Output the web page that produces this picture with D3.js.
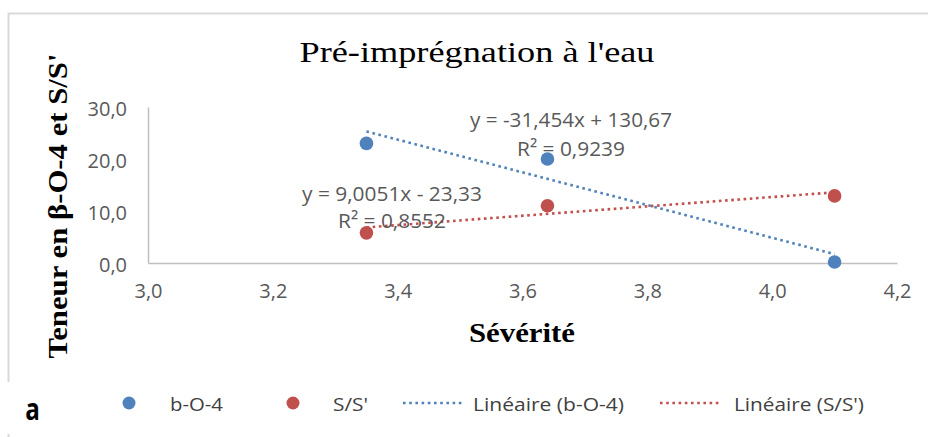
<!DOCTYPE html>
<html><head><meta charset="utf-8">
<script src="https://cdn.jsdelivr.net/npm/d3@7"></script>
<style>html,body{margin:0;padding:0;background:#fff;}svg{display:block;}</style>
</head><body>
<svg id="c" width="928" height="437"></svg>
<script>
const severite = [3.35, 3.64, 4.10];
const bO4 = [23.0, 20.0, 0.2];
const sS = [5.8, 11.0, 12.9];
const trendBO4 = [-31.454, 130.67];
const trendSS = [9.0051, -23.33];
const eqBO4 = ["y = -31,454x + 130,67", "R² = 0,9239"];
const eqSS = ["y = 9,0051x - 23,33", "R² = 0,8552"];
const xTicks = [3.0, 3.2, 3.4, 3.6, 3.8, 4.0, 4.2];
const yTicks = [0, 10, 20, 30];
const seriesNames = ["b-O-4", "S/S'", "Linéaire (b-O-4)", "Linéaire (S/S')"];
const colors = {blue: "#4F81BD", red: "#C0504D"};

const svg = d3.select("#c");
const fmt = d => d3.format(".1f")(d).replace(".", ",");
const sans = "'Open Sans', sans-serif";
const serif = "'Liberation Serif', 'Times New Roman', serif";

// outer border
svg.append("rect").attr("x", 8.5).attr("y", 13.5).attr("width", 1000).attr("height", 1000)
  .attr("fill", "none").attr("stroke", "#d9d9d9").attr("stroke-width", 2);
svg.append("rect").attr("x", 0).attr("y", 382).attr("width", 60).attr("height", 52).attr("fill", "#fff");

const x = d3.scaleLinear().domain([3.0, 4.2]).range([148, 897]);
const y = d3.scaleLinear().domain([0, 30]).range([263, 107]);

// axes
const xa = svg.append("g").attr("transform", "translate(0,263)")
  .call(d3.axisBottom(x).tickValues(xTicks).tickSize(0).tickPadding(21).tickFormat(fmt));
const ya = svg.append("g").attr("transform", "translate(148,0)")
  .call(d3.axisLeft(y).tickValues(yTicks).tickSize(0).tickPadding(21).tickFormat(fmt));
[xa, ya].forEach(a => {
  a.select(".domain").attr("stroke", "#bfbfbf").attr("stroke-width", 1.5);
  a.selectAll("text").attr("fill", "#595959").style("font-family", sans).style("font-size", "20px");
});
ya.selectAll("text").attr("dy", "0.4em");

// trend lines
const line = d3.line().x(d => x(d[0])).y(d => y(d[1]));
const xr = d3.extent(severite);
[[trendBO4, colors.blue], [trendSS, colors.red]].forEach(([t, c]) => {
  svg.append("path").datum(xr.map(v => [v, t[0] * v + t[1]]))
    .attr("d", line).attr("fill", "none").attr("stroke", c)
    .attr("stroke-width", 2.6).attr("stroke-dasharray", "2.6,3.6");
});

// points
[[bO4, colors.blue], [sS, colors.red]].forEach(([vals, c]) => {
  svg.append("g").selectAll("circle").data(vals).join("circle")
    .attr("cx", (d, i) => x(severite[i])).attr("cy", d => y(d)).attr("r", 6.8).attr("fill", c);
});

// equation labels
const eq = (lines, cx, cy, lens) => {
  lines.forEach((t, i) => svg.append("text").attr("x", cx).attr("y", cy[i]).attr("text-anchor", "middle")
    .attr("dominant-baseline", "central").attr("fill", "#595959")
    .attr("textLength", lens[i]).attr("lengthAdjust", "spacingAndGlyphs")
    .style("font-family", sans).style("font-size", "20px").text(t));
};
eq(eqBO4, 571, [119, 148], [202, 108]);
eq(eqSS, 392, [193, 220], [180, 108]);

// titles
svg.append("text").attr("x", 477).attr("y", 62).attr("text-anchor", "middle")
  .attr("textLength", 355).attr("lengthAdjust", "spacingAndGlyphs")
  .style("font-family", serif).style("font-size", "29px")
  .attr("fill", "#000").text("Pré-imprégnation  à l'eau");
svg.append("text").attr("x", 522).attr("y", 342).attr("text-anchor", "middle")
  .attr("textLength", 106).attr("lengthAdjust", "spacingAndGlyphs")
  .style("font-family", serif).style("font-size", "28px")
  .style("font-weight", "bold").attr("fill", "#000").text("Sévérité");
svg.append("text").attr("transform", "translate(67,206) rotate(-90)").attr("text-anchor", "middle")
  .attr("textLength", 305).attr("lengthAdjust", "spacingAndGlyphs")
  .style("font-family", serif).style("font-size", "28px")
  .style("font-weight", "bold").attr("fill", "#000").text("Teneur en β-O-4 et S/S'");

// legend
const lg = svg.append("g").style("font-family", sans).style("font-size", "19px");
const legendItems = [
  {name: seriesNames[0], type: "dot", color: colors.blue, mx: 129, tx: 170, w: 53},
  {name: seriesNames[1], type: "dot", color: colors.red, mx: 293, tx: 333, w: 35},
  {name: seriesNames[2], type: "line", color: colors.blue, mx: 403, tx: 473, w: 151},
  {name: seriesNames[3], type: "line", color: colors.red, mx: 660, tx: 734, w: 130}
];
legendItems.forEach(it => {
  if (it.type === "dot") lg.append("circle").attr("cx", it.mx).attr("cy", 403).attr("r", 6.5).attr("fill", it.color);
  else lg.append("line").attr("x1", it.mx).attr("x2", it.mx + 62).attr("y1", 403).attr("y2", 403)
    .attr("stroke", it.color).attr("stroke-width", 2.6).attr("stroke-dasharray", "2.6,3.6");
  lg.append("text").attr("x", it.tx).attr("y", 404).attr("dominant-baseline", "central")
    .attr("textLength", it.w).attr("lengthAdjust", "spacingAndGlyphs")
    .attr("fill", "#404040").text(it.name);
});
svg.append("text").attr("transform", "translate(32.5,420) scale(0.78,1)").attr("text-anchor", "middle")
  .style("font-family", sans).style("font-size", "31px").style("font-weight", "bold")
  .text("a");
</script>
</body></html>
